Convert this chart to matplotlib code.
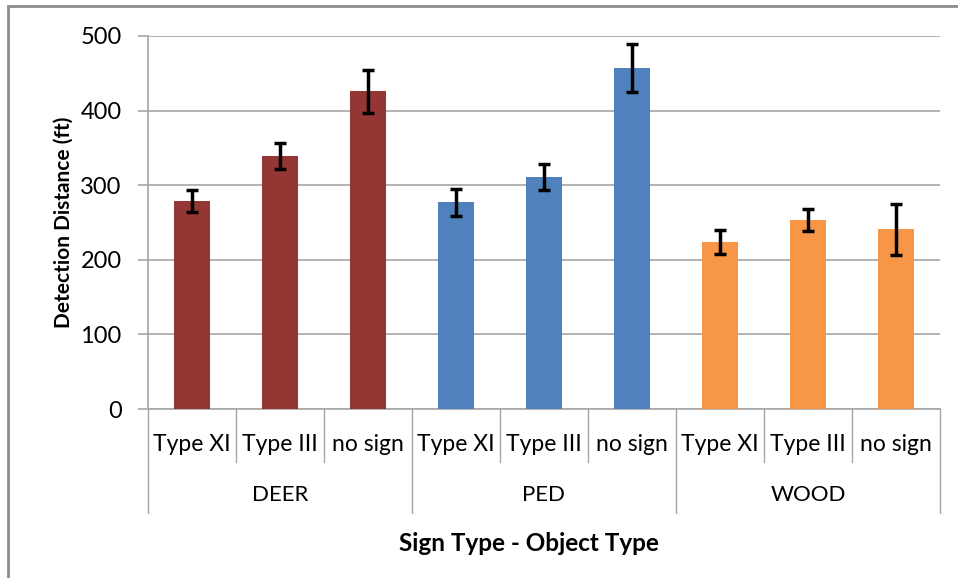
import matplotlib
matplotlib.use("Agg")
import matplotlib.pyplot as plt
import matplotlib.transforms as mtransforms
from matplotlib.patches import Rectangle

plt.rcParams['font.family'] = ['Lato', 'DejaVu Sans']

# data
groups = ["DEER", "PED", "WOOD"]
signs = ["Type XI", "Type III", "no sign"]
deer = [279, 339, 426]
ped = [277, 311, 457]
wood = [224, 253, 241]
deer_err = [15, 17, 29]
ped_err = [18, 17, 32]
wood_err = [16, 15, 34]
colors = ["#943634", "#4F81BD", "#F79646"]

fig = plt.figure(figsize=(9.58, 5.78), dpi=100)
ax = fig.add_axes([148/958, 1 - 409/578, 792/958, 373/578])

vals = [deer, ped, wood]
errs = [deer_err, ped_err, wood_err]
for g in range(len(groups)):
    xs = [g*3 + i for i in range(len(signs))]
    ax.bar(xs, vals[g], width=0.41, color=colors[g], zorder=3)
    ax.errorbar(xs, vals[g], yerr=errs[g], fmt='none', ecolor='black',
                elinewidth=2.5, capsize=4.5, capthick=2.5, zorder=4)

ax.set_xlim(-0.5, 8.5)
ax.set_ylim(0, 500)
ax.set_yticks([0, 100, 200, 300, 400, 500])
ax.yaxis.grid(True, color='#a6a6a6', linewidth=1.2, zorder=0)
ax.tick_params(axis='y', length=7, color='#a6a6a6', width=1.2, labelsize=17, pad=12)
ax.tick_params(axis='x', bottom=False, labelbottom=False)
for s in ['top', 'right']:
    ax.spines[s].set_visible(False)
ax.spines['left'].set_color('#a6a6a6')
ax.spines['bottom'].set_color('#a6a6a6')
ax.spines['left'].set_linewidth(1.2)
ax.spines['bottom'].set_linewidth(1.2)

# multi-level category axis
tr = mtransforms.blended_transform_factory(ax.transData, ax.transAxes)
n = len(groups) * len(signs)
for k in range(n + 1):
    x = k - 0.5
    bottom = -0.279 if k % 3 == 0 else -0.142
    ax.plot([x, x], [0, bottom], transform=tr, color='#a6a6a6', lw=1, clip_on=False)
for g in range(len(groups)):
    for i in range(len(signs)):
        ax.text(g*3 + i, -0.0965, signs[i], transform=tr, ha='center', va='center',
                fontsize=16.5)
    ax.text(g*3 + 1, -0.2306, groups[g], transform=tr, ha='center', va='center',
            fontsize=16)

ax.text(3.83, -0.36, "Sign Type - Object Type", transform=tr, ha='center', va='center',
        fontsize=17.5, fontweight='bold')
ax.set_ylabel("Detection Distance (ft)", fontsize=15, fontweight='bold', labelpad=5)

# outer chart border
fig.patches.append(Rectangle((8/958, -0.1), 1.2, 1.1 - 6/578,
                             transform=fig.transFigure, fill=False,
                             edgecolor='#8c8c8c', lw=2))

fig.savefig("out.png", dpi=100)
